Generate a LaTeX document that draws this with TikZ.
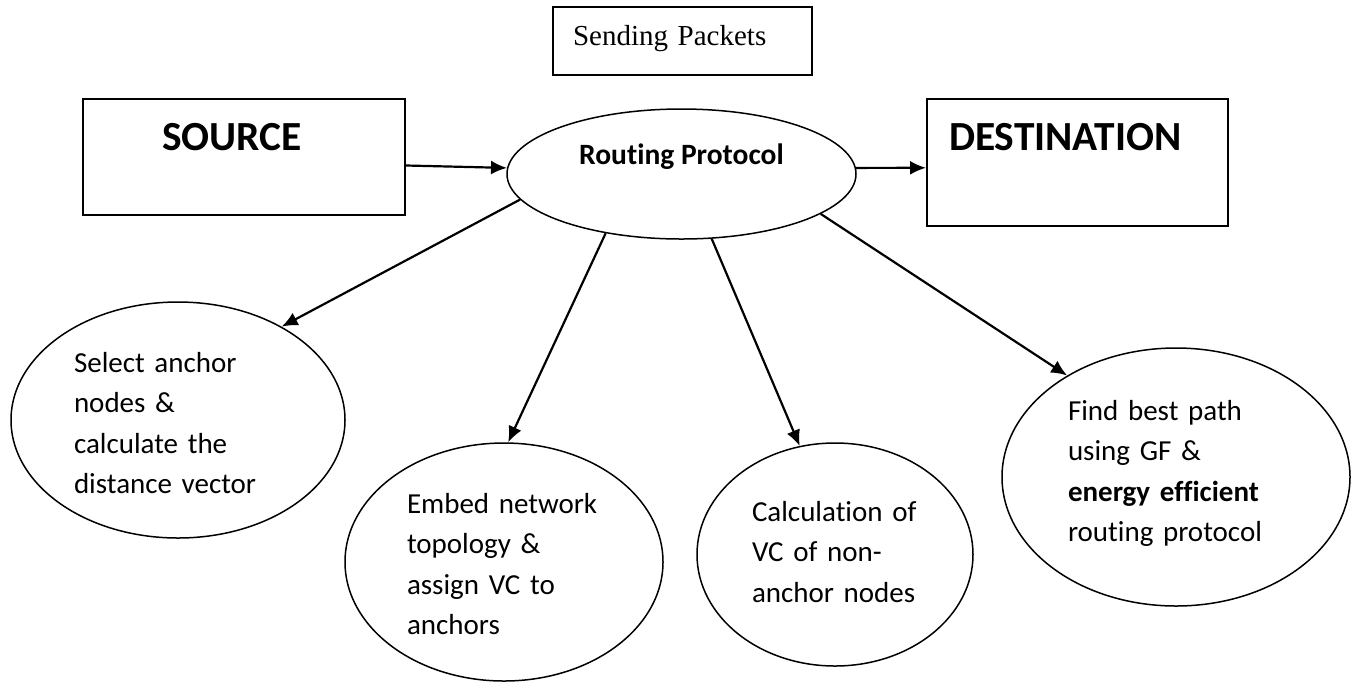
\documentclass[tikz,border=0pt]{standalone}
\usepackage{fontspec}
\setmainfont{Carlito}[Ligatures=NoCommon]
\newfontfamily\timesfont{Liberation Serif}
\usetikzlibrary{shapes.geometric,arrows.meta}

\begin{document}
\begin{tikzpicture}[>={Latex[length=8pt,width=7pt]},
					x=0.5pt, y=-0.5pt,
					box/.style = {draw, line width=1pt, rectangle, inner ysep=0pt, align=left},
					bubble/.style = {draw, line width=0.75pt, ellipse, inner sep=0pt, align=left,
						text height=10pt, font=\fontsize{14.5}{20.3}\selectfont},
					link/.style = {->, line width=1.1pt}
				]

				\useasboundingbox (0,0) rectangle (1354,682);

				\node[box, inner xsep=10pt, text width=109.5pt, text height=19pt, text depth=15pt,
					font=\timesfont\fontsize{14.5}{17}\selectfont] (pkt) at (682.5,41) {Sending Packets};
				\node[box, inner xsep=39.5pt, text width=82pt, text height=25.5pt, text depth=32.5pt,
					font=\bfseries\fontsize{20.7}{24}\selectfont] (src) at (244,157) {SOURCE};
				\node[box, inner xsep=11pt, text width=128.5pt, text height=25.5pt, text depth=38pt,
					font=\bfseries\fontsize{20.7}{24}\selectfont] (dst) at (1077.5,162.5) {DESTINATION};
				\node[draw, line width=0.75pt, ellipse, inner sep=0pt, minimum width=174.5pt,
					minimum height=65pt, text height=10pt, text depth=20pt,
					font=\bfseries\fontsize{14.75}{17}\selectfont] (route) at (681.5,174) {Routing Protocol};

				\node[bubble, minimum width=167pt, minimum height=118pt, text width=104pt,
					text depth=58pt] (sel) at (178,420)
					{Select anchor\\nodes \&\\calculate the\\distance vector};
				\node[bubble, minimum width=159pt, minimum height=119pt, text width=97pt,
					text depth=59pt] (emb) at (504,562)
					{Embed network\\topology \&\\assign VC to\\anchors};
				\node[bubble, minimum width=138pt, minimum height=111.5pt, text width=83pt,
					text depth=43.5pt] (calc) at (835,554.5)
					{Calculation of\\VC of non-\\anchor nodes};
				\node[bubble, minimum width=174pt, minimum height=129pt, text width=108pt,
					text depth=67pt] (best) at (1176,477)
					{Find best path\\using GF \&\\\textbf{energy efficient}\\routing protocol};

				\draw[link] (src.-3.5) -- (route.178);
				\draw[link] (route.2) -- (dst.182.5);
				\draw[link] (route.189.3) -- (sel.42.7);
				\draw[link] (route.218.5) -- (emb.88);
				\draw[link] (route.295) -- (calc.108.7);
				\draw[link] (route.344) -- (best.137);
			\end{tikzpicture}
\end{document}
